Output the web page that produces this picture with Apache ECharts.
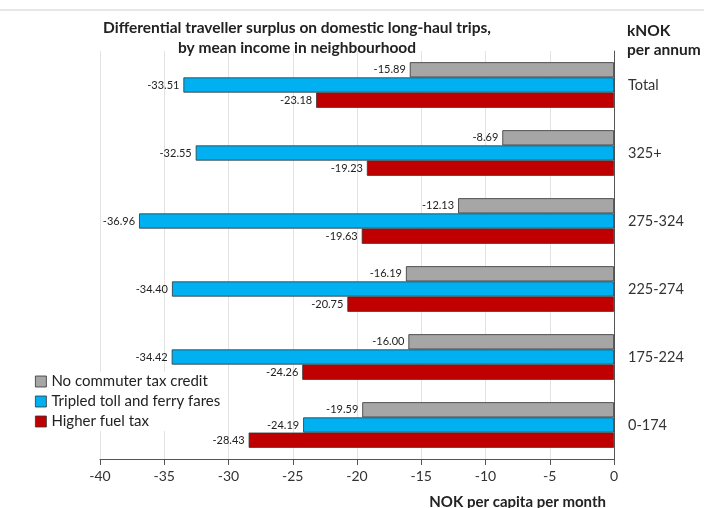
<!DOCTYPE html>
<html><head><meta charset="utf-8">
<script src="https://cdn.jsdelivr.net/npm/echarts@6/dist/echarts.min.js"></script>
<style>html,body{margin:0;padding:0;background:#fff}#c{width:704px;height:508px}</style>
</head><body><div id="c"></div>
<script>
const categories = ['Total', '325+', '275-324', '225-274', '175-224', '0-174'];
const seriesNames = ['No commuter tax credit', 'Tripled toll and ferry fares', 'Higher fuel tax'];
const noCommuter = [-15.89, -8.69, -12.13, -16.19, -16.00, -19.59];
const tripledToll = [-33.51, -32.55, -36.96, -34.40, -34.42, -24.19];
const higherFuel = [-23.18, -19.23, -19.63, -20.75, -24.26, -28.43];
const xTicks = [-40, -35, -30, -25, -20, -15, -10, -5, 0];
const colors = ['#A6A6A6', '#00B0F0', '#C00000'];
const FONT = 'Lato, "Open Sans", sans-serif';

const chart = echarts.init(document.getElementById('c'));
const mk = (name, data, color) => ({
  name, type: 'bar', data,
  barGap: '0%', barCategoryGap: '33%',
  itemStyle: { color, borderColor: '#333', borderWidth: 0.8 },
  label: { show: true, position: 'left', distance: 4, color: '#222', fontSize: 11, fontFamily: FONT,
    formatter: p => p.value.toFixed(2) },
  animation: false
});
chart.setOption({
  animation: false,
  textStyle: { fontFamily: FONT },
  grid: { left: 100, right: 90, top: 51, bottom: 49, containLabel: false },
  legend: {
    orient: 'vertical', left: 33, top: 372, itemWidth: 11, itemHeight: 11, itemGap: 5,
    backgroundColor: '#fff', padding: [2, 4, 2, 2],
    textStyle: { fontSize: 15, color: '#222', fontFamily: FONT },
    data: seriesNames.map(n => ({ name: n, icon: 'rect', itemStyle: { borderColor: '#333', borderWidth: 0.8 } }))
  },
  xAxis: {
    type: 'value', min: xTicks[0], max: xTicks[xTicks.length - 1], interval: 5,
    axisLine: { show: true, lineStyle: { color: '#555' } },
    axisTick: { show: true, length: 6, lineStyle: { color: '#555' } },
    axisLabel: { color: '#333', fontSize: 14, margin: 10, fontFamily: FONT },
    splitLine: { show: true, lineStyle: { color: '#e3e3e3' } }
  },
  yAxis: {
    type: 'category', data: categories, inverse: true, position: 'right',
    axisLine: { show: true, onZero: false, lineStyle: { color: '#555' } },
    axisTick: { show: false },
    axisLabel: { color: '#333', fontSize: 14.5, margin: 14, align: 'left', fontFamily: FONT },
    splitLine: { show: false }
  },
  graphic: [
    { type: 'line', shape: { x1: 0, y1: 10, x2: 704, y2: 10 }, style: { stroke: '#e6e6e6', lineWidth: 2 } },
    { type: 'text', style: { text: 'Differential traveller surplus on domestic long-haul trips,\nby mean income in neighbourhood',
      x: 297, y: 18, textAlign: 'center', font: 'bold 15.5px ' + FONT, fill: '#222', lineHeight: 20 } },
    { type: 'text', style: { text: 'kNOK\nper annum', x: 627, y: 21, textAlign: 'left', font: 'bold 15.5px ' + FONT, fill: '#222', lineHeight: 19 } },
    { type: 'text', style: { text: 'NOK per capita per month', x: 606, y: 495, textAlign: 'right', font: 'bold 15px ' + FONT, fill: '#222' } }
  ],
  series: [mk(seriesNames[0], noCommuter, colors[0]), mk(seriesNames[1], tripledToll, colors[1]), mk(seriesNames[2], higherFuel, colors[2])]
});
</script></body></html>
